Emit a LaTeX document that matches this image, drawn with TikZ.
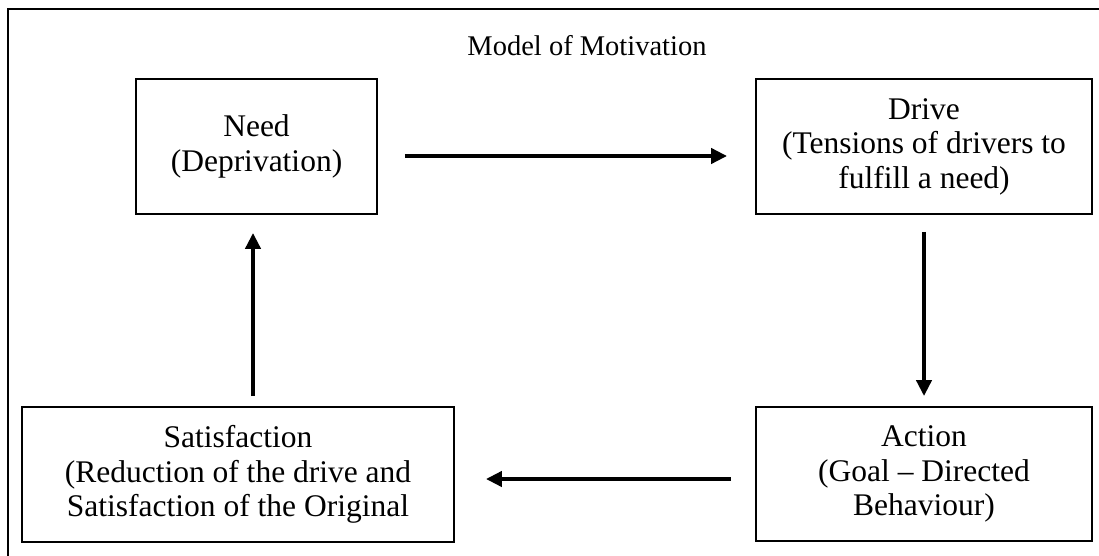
\documentclass[tikz,border=0pt]{standalone}
\usepackage{fontspec}
\setmainfont{Liberation Serif}
\usetikzlibrary{arrows.meta}
\tikzset{
  box/.style={draw, line width=1.8pt, align=center, inner sep=0pt,
    font=\fontsize{31.5}{34.5}\selectfont},
  arr/.style={line width=4pt, -{Triangle[length=16pt,width=15pt]}},
  frame/.style={line width=1.8pt}
}
\begin{document}
\begin{tikzpicture}[x=1pt,y=-1pt]
\useasboundingbox (0,0) rectangle (1099,556);
\draw[frame] (8,556) -- (8,9) -- (1099,9);
\node[anchor=base, font=\fontsize{28.5}{32}\selectfont] (title) at (587,56) {Model of Motivation};
\node[box, minimum width=241pt, minimum height=135pt] (need) at (256.5,146.5) {Need\\(Deprivation)};
\node[box, minimum width=336pt, minimum height=135pt] (drive) at (924,146.5) {Drive\\(Tensions of drivers to\\fulfill a need)};
\node[box, minimum width=336pt, minimum height=134pt] (action) at (924,474) {Action\\(Goal -- Directed\\Behaviour)};
\node[box, minimum width=432pt, minimum height=135pt] (sat) at (238,474.5) {Satisfaction\\(Reduction of the drive and\\Satisfaction of the Original};
\draw[arr] ([shift={(27,9.5)}]need.east) -- ([shift={(-28,9.5)}]drive.west);
\draw[arr] ([shift={(0,17)}]drive.south) -- ([shift={(0,-10)}]action.north);
\draw[arr] ([shift={(-24,5)}]action.west) -- ([shift={(31,4.5)}]sat.east);
\draw[arr] ([shift={(15,-10)}]sat.north) -- ([shift={(-3.5,18)}]need.south);
\end{tikzpicture}
\end{document}
